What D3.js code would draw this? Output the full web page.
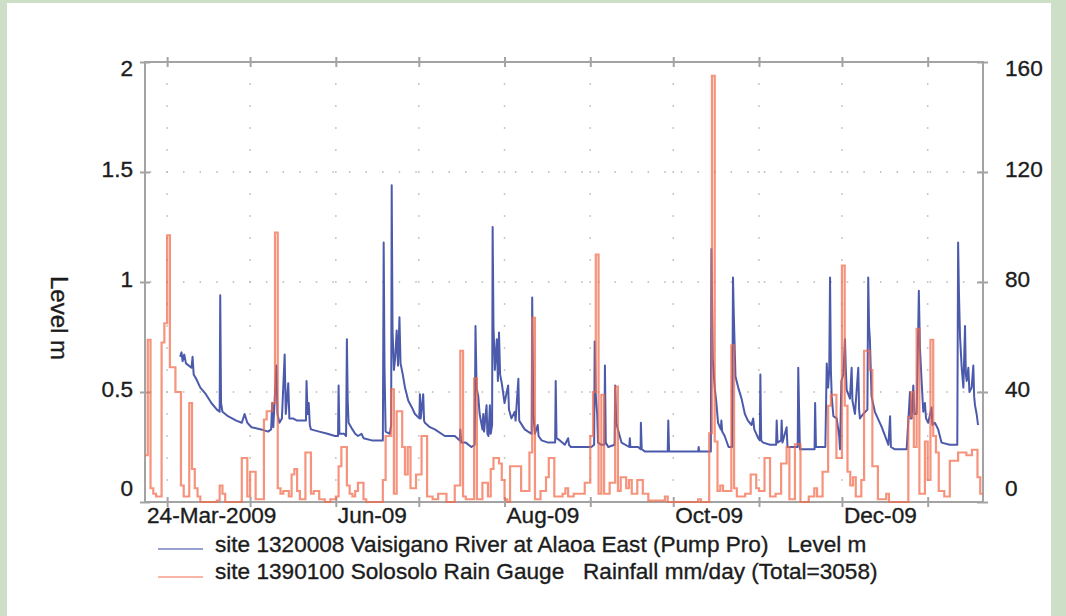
<!DOCTYPE html>
<html>
<head>
<meta charset="utf-8">
<script src="https://cdn.jsdelivr.net/npm/d3@7"></script>
<style>
  html, body { margin: 0; padding: 0; background: #cddfc6; overflow: hidden; }
  #chart { width: 1066px; height: 616px; }
  text { font-family: "Liberation Sans", Arial, Helvetica, sans-serif; fill: #1c1c1c; stroke: #1c1c1c; stroke-width: 0.35px; }
</style>
</head>
<body>
<div id="chart"></div>
<script>
// day 0 = 24-Mar-2009
const startDate = Date.UTC(2009, 2, 24);
const endDate = Date.UTC(2010, 0, 21);

// daily rainfall, mm/day (site 1390100 Solosolo), one value per day from 24-Mar-2009
const rainfall = [
    17, 59, 5, 3, 2, 2, 58, 65, 97, 49, 49, 40, 40, 6, 2, 2, 36, 12, 5, 2,
    0, 0, 0, 0, 0, 0, 0.5, 6, 3, 0, 0, 0, 0, 0, 0, 16, 16, 2, 11, 11,
    1, 1, 1, 30, 33, 33, 36, 98, 5, 3, 4, 4, 2, 10, 12, 4, 1, 1, 18, 18,
    3, 4, 4, 1, 1, 0, 0, 1, 1, 2, 13, 20, 20, 6, 3, 2, 4, 7, 7, 1,
    0, 0, 0, 0, 0, 0, 8, 24, 24, 41, 3, 33, 33, 20, 10, 20, 5, 5, 10, 10,
    24, 24, 2, 2, 1, 1, 3, 3, 3, 0, 0, 0, 6, 6, 55, 2, 1, 1, 1, 45,
    1, 1, 7, 7, 2, 12, 16, 16, 14, 8, 1, 0, 13, 13, 13, 13, 4, 4, 4, 18,
    67, 1, 1, 4, 4, 9, 16, 16, 2, 2, 2, 3, 5, 2, 2, 3, 3, 3, 3, 7,
    7, 24, 40, 90, 3, 39, 3, 3, 7, 7, 42, 4, 9, 9, 5, 8, 3, 3, 8, 8,
    3, 3, 0.5, 0.5, 0.5, 0.5, 0.5, 0.5, 2, 0, 0, 0, 0, 0, 0, 0, 0, 0, 0, 0,
    1, 0, 0, 0, 25, 155, 22, 4, 6, 4, 4, 4, 57, 5, 2, 2, 2, 3, 3, 10,
    10, 5, 4, 4, 16, 16, 2, 2, 3, 3, 14, 14, 20, 1, 1, 21, 21, 0, 0, 0,
    2, 2, 5, 2, 2, 11, 11, 35, 39, 39, 16, 16, 86, 35, 11, 6, 9, 2, 2, 8,
    55, 55, 48, 13, 13, 1, 1, 1, 3, 0, 0, 0, 0, 0, 0, 0, 31, 40, 20, 63,
    3, 3, 22, 8, 59, 24, 18, 4, 4, 2, 2, 15, 15, 15, 18, 18, 18, 17, 17, 19,
    19, 9, 3
];

// river level, m (site 1320008 Vaisigano River) as [day since 24-Mar-2009, level]
const level = [
    [12.7,0.66],[13.2,0.68],[13.6,0.64],[14.2,0.67],[14.8,0.63],[16.8,0.61],[17.2,0.66],[17.6,0.58],
    [18.5,0.56],[20,0.52],[22,0.49],[24,0.45],[26,0.42],[27,0.41],[27.2,0.94],[27.5,0.45],[28,0.41],
    [30,0.39],[33,0.37],[35,0.36],[36,0.40],[37,0.36],[38.5,0.34],[42,0.33],[44.5,0.32],[45.6,0.33],
    [46,0.45],[46.4,0.34],[47.5,0.62],[47.9,0.40],[48.6,0.36],[49.5,0.38],[50.5,0.67],[50.9,0.40],
    [51.8,0.54],[52.2,0.38],[53.5,0.38],[55,0.37],[58.2,0.37],[58.4,0.55],[58.8,0.40],[59.2,0.45],
    [59.6,0.35],[60,0.33],[63,0.32],[66,0.31],[68.7,0.30],[69.8,0.30],[70,0.53],[70.3,0.31],[72,0.31],
    [72.7,0.30],[73,0.74],[73.3,0.46],[73.6,0.36],[75,0.33],[76,0.31],[77,0.30],[78.3,0.31],[79,0.29],
    [82,0.28],[86,0.28],[86.3,1.18],[86.6,0.61],[87,0.32],[88.5,0.31],[89,0.35],[89.2,1.44],[89.5,0.78],
    [90,0.60],[90.5,0.66],[91,0.78],[91.5,0.62],[92,0.84],[92.4,0.63],[93.2,0.58],[94,0.52],[95.2,0.46],
    [96.5,0.43],[97.6,0.40],[99.2,0.38],[99.4,0.49],[99.7,0.38],[100.6,0.49],[100.9,0.37],[101.2,0.36],
    [103,0.34],[104.8,0.33],[108.4,0.30],[112,0.30],[113.8,0.28],[114,0.33],[114.3,0.27],[116,0.27],
    [118,0.25],[119.2,0.26],[119.5,0.80],[119.9,0.52],[120.5,0.48],[121,0.40],[122,0.33],[122.3,0.40],
    [122.6,0.32],[123.5,0.44],[123.8,0.31],[124.2,0.30],[124.7,0.44],[125,0.31],[125.5,0.35],[125.7,1.25],
    [126,0.80],[126.5,0.60],[127.2,0.74],[127.6,0.55],[128,0.77],[128.4,0.58],[129,0.54],[130,0.45],
    [131.3,0.53],[131.6,0.42],[132.5,0.38],[133.7,0.41],[134,0.37],[135,0.56],[135.3,0.37],[137.3,0.33],
    [138.5,0.32],[139.8,0.31],[140,0.93],[140.4,0.40],[141,0.31],[142,0.35],[142.3,0.30],[143.4,0.28],
    [145.8,0.27],[148.3,0.27],[148.5,0.55],[148.8,0.29],[150,0.28],[151.8,0.26],[153,0.29],[153.3,0.26],
    [154,0.25],[158,0.25],[161.4,0.25],[162.4,0.26],[162.6,0.73],[163,0.48],[163.5,0.40],[163.8,0.27],
    [165,0.26],[166.1,0.26],[166.3,0.62],[166.6,0.27],[167.5,0.25],[169.8,0.26],[170,0.53],[170.4,0.36],
    [171,0.33],[172.3,0.27],[175.1,0.25],[175.3,0.29],[175.5,0.25],[178.3,0.25],[179.2,0.24],[179.3,0.36],
    [179.6,0.24],[180.7,0.23],[185,0.23],[189,0.23],[189.2,0.37],[189.5,0.23],[195,0.23],[200,0.23],
    [200.2,0.25],[200.4,0.23],[204.6,0.23],[204.8,1.15],[205.3,0.65],[206,0.52],[206.6,0.45],[207.2,0.36],
    [208.2,0.33],[208.4,0.37],[208.7,0.32],[209.6,0.30],[211,0.25],[212.3,0.25],[212.6,1.02],[212.9,0.85],
    [213.5,0.57],[214.5,0.52],[215.7,0.47],[216.9,0.40],[218,0.37],[219.3,0.35],[219.9,0.38],[220.3,0.33],
    [221.7,0.29],[222.3,0.28],[222.5,0.58],[222.8,0.28],[223.5,0.27],[226,0.26],[228.2,0.26],[228.4,0.37],
    [228.7,0.27],[230,0.28],[230.2,0.37],[230.5,0.27],[232,0.34],[232.3,0.25],[234,0.25],[236,0.25],
    [236.2,0.61],[236.5,0.42],[236.8,0.24],[240,0.24],[242.1,0.24],[242.3,0.45],[242.6,0.25],[246,0.25],
    [246.5,0.63],[247,0.52],[247.4,0.60],[247.7,1.02],[248,0.60],[248.3,0.48],[248.9,0.39],[250.1,0.38],
    [251,0.30],[251.3,0.24],[251.8,0.55],[252.5,0.58],[253.1,0.74],[253.4,0.60],[253.7,0.51],[254.9,0.47],
    [255.5,0.61],[255.8,0.46],[256.7,0.40],[257.9,0.61],[258.2,0.42],[258.5,0.38],[259.7,0.40],[261.2,0.42],
    [261.5,1.02],[261.8,0.80],[262.1,0.74],[262.7,0.48],[263.9,0.41],[266.4,0.34],[268.8,0.26],[269.4,0.39],
    [269.7,0.25],[271,0.24],[275.4,0.24],[276.6,0.50],[276.9,0.38],[277.2,0.38],[277.8,0.53],[278.2,0.40],
    [279,0.40],[279.6,0.80],[279.8,0.96],[280.2,0.70],[280.8,0.55],[281.4,0.41],[282,0.45],[282.4,0.38],
    [283.2,0.36],[284.4,0.43],[284.7,0.35],[285.6,0.36],[286.8,0.33],[288,0.27],[291,0.26],[293.7,0.26],
    [294,1.18],[294.3,0.95],[294.7,0.75],[295.3,0.61],[295.9,0.52],[296.5,0.80],[296.8,0.58],[297.1,0.55],
    [297.7,0.61],[298.1,0.50],[298.9,0.52],[299.5,0.62],[299.8,0.48],[300.1,0.44],[300.7,0.40],[301.2,0.35]
];

const levelTicks = [0, 0.5, 1, 1.5, 2];
const rainTicks = [0, 40, 80, 120, 160];
const xLabelDates = [Date.UTC(2009, 2, 24), Date.UTC(2009, 5, 1), Date.UTC(2009, 7, 1), Date.UTC(2009, 9, 1), Date.UTC(2009, 11, 1)];
const xLabelText = ["24-Mar-2009", "Jun-09", "Aug-09", "Oct-09", "Dec-09"];
const legendLabels = [
    "site 1320008 Vaisigano River at Alaoa East (Pump Pro)   Level m",
    "site 1390100 Solosolo Rain Gauge   Rainfall mm/day (Total=3058)"
];
const levelColor = "#2d3d9e";
const rainColor = "#f2694a";

function dayToDate(d) {
    return new Date(startDate + d * 864e5);
}

function buildChart() {
    const left = 145, right = 983, top = 62, bottom = 502;
    const axisColor = "#a3a3a3";
    const fontSize = "22.6px";

    const svg = d3.select("#chart").append("svg")
        .attr("width", 1066)
        .attr("height", 616);

    // white page panel inside the green frame
    svg.append("rect")
        .attr("x", 7).attr("y", 3)
        .attr("width", 1044).attr("height", 620)
        .attr("fill", "#fff");

    const x = d3.scaleUtc().domain([new Date(startDate), new Date(endDate)]).range([left, right]);
    const yLevel = d3.scaleLinear().domain([0, 2]).range([bottom, top]);
    const yRain = d3.scaleLinear().domain([0, 160]).range([bottom, top]);
    const months = d3.utcMonth.range(new Date(startDate), new Date(endDate));

    // dotted grid
    const grid = svg.append("g").attr("fill", "#b5b5b5");
    const minorLevels = d3.range(1, 20).map(k => k / 10);
    months.forEach(m => {
        grid.selectAll(null)
            .data(minorLevels)
            .enter().append("rect")
            .attr("x", x(m) - 0.75).attr("y", d => yLevel(d) - 0.75)
            .attr("width", 1.5).attr("height", 1.5);
    });
    const step = (x(months[1]) - x(months[0])) / 5;
    const dotXs = [];
    for (let px = x(months[0]) - step; px > left + 2; px -= step) dotXs.push(px);
    for (let px = x(months[0]); px < right - 2; px += step) dotXs.push(px);
    [0.5, 1, 1.5].forEach(v => {
        grid.selectAll(null)
            .data(dotXs)
            .enter().append("rect")
            .attr("x", d => d - 0.75).attr("y", yLevel(v) - 0.75)
            .attr("width", 1.5).attr("height", 1.5);
    });

    // frame
    svg.append("rect")
        .attr("x", left).attr("y", top)
        .attr("width", right - left).attr("height", bottom - top)
        .attr("fill", "none")
        .attr("stroke", axisColor)
        .attr("stroke-width", 2);

    const labelY = py => Math.min(Math.max(py - 4, 67), 487);

    // left axis
    const leftAxis = svg.append("g")
        .attr("transform", `translate(${left},0)`)
        .call(d3.axisLeft(yLevel).tickValues(levelTicks).tickFormat(d3.format("")).tickSizeOuter(0));
    leftAxis.select(".domain").remove();
    leftAxis.selectAll(".tick line").attr("x1", -5).attr("x2", 5).attr("stroke", axisColor).attr("stroke-width", 2);
    leftAxis.selectAll(".tick text")
        .attr("x", -12)
        .attr("y", d => labelY(yLevel(d)) - yLevel(d))
        .attr("dy", "0.36em")
        .style("font-size", fontSize)
        .attr("fill", "#1c1c1c");

    // right axis
    const rightAxis = svg.append("g")
        .attr("transform", `translate(${right},0)`)
        .call(d3.axisRight(yRain).tickValues(rainTicks).tickSizeOuter(0));
    rightAxis.select(".domain").remove();
    rightAxis.selectAll(".tick line").attr("x1", -6).attr("x2", 5).attr("stroke", axisColor).attr("stroke-width", 2);
    rightAxis.selectAll(".tick text")
        .attr("x", 22)
        .attr("y", d => labelY(yRain(d)) - yRain(d))
        .attr("dy", "0.36em")
        .style("font-size", fontSize)
        .attr("fill", "#1c1c1c");

    // month ticks top and bottom
    [top, bottom].forEach(py => {
        const g = svg.append("g")
            .attr("transform", `translate(0,${py})`)
            .call(d3.axisBottom(x).tickValues(months).tickFormat(""));
        g.select(".domain").remove();
        g.selectAll(".tick line").attr("y1", -5).attr("y2", 5).attr("stroke", axisColor).attr("stroke-width", 2);
    });

    svg.append("g").selectAll("text")
        .data(xLabelDates)
        .enter().append("text")
        .attr("x", d => x(new Date(d)) + 2)
        .attr("y", 523)
        .style("font-size", fontSize)
        .text((d, i) => xLabelText[i]);

    // level line
    const levelLine = d3.line()
        .x(d => x(dayToDate(d[0])))
        .y(d => yLevel(d[1]));
    svg.append("path")
        .datum(level)
        .attr("fill", "none")
        .attr("stroke", levelColor)
        .attr("stroke-width", 2)
        .attr("stroke-opacity", 0.85)
        .attr("stroke-linejoin", "round")
        .attr("d", levelLine);

    // rainfall step line
    const rainPoints = rainfall.map((v, i) => [i, v]);
    rainPoints.push([rainfall.length, rainfall[rainfall.length - 1]]);
    const rainLine = d3.line()
        .curve(d3.curveStepAfter)
        .x(d => x(dayToDate(d[0])))
        .y(d => yRain(d[1]));
    svg.append("path")
        .datum(rainPoints)
        .attr("fill", "none")
        .attr("stroke", rainColor)
        .attr("stroke-width", 2.2)
        .attr("stroke-opacity", 0.72)
        .attr("d", rainLine);

    // y axis title
    svg.append("text")
        .attr("transform", "translate(51,318) rotate(90)")
        .attr("text-anchor", "middle")
        .style("font-size", "24px")
        .text("Level m");

    // legend
    const legend = svg.append("g");
    [levelColor, rainColor].forEach((c, i) => {
        legend.append("line")
            .attr("x1", 158).attr("x2", 203)
            .attr("y1", 549 + i * 28).attr("y2", 549 + i * 28)
            .attr("stroke", c)
            .attr("stroke-opacity", 0.65)
            .attr("stroke-width", 1.5);
        legend.append("text")
            .attr("x", 215)
            .attr("y", 552 + i * 27)
            .style("font-size", fontSize)
            .style("white-space", "pre")
            .text(legendLabels[i]);
    });
}

buildChart();
</script>
</body>
</html>
